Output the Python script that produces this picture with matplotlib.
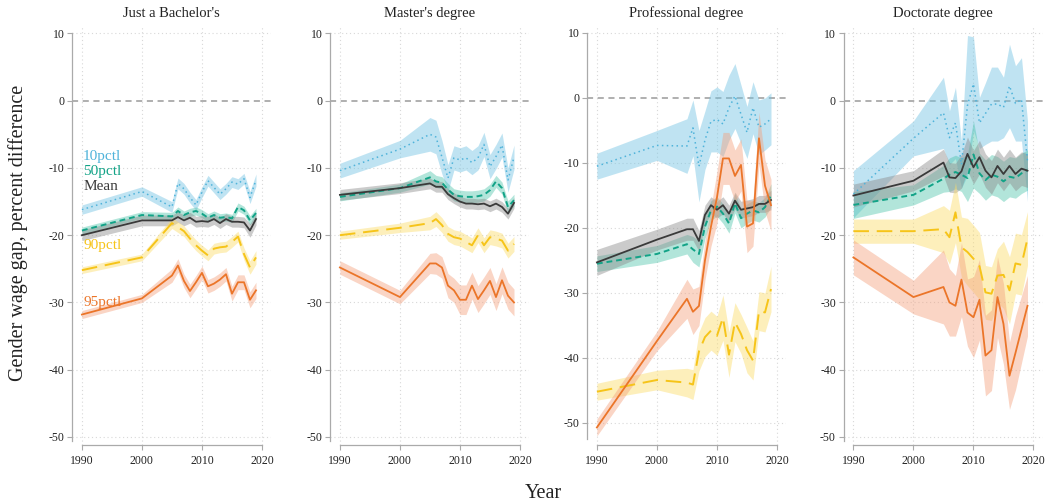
import matplotlib
matplotlib.use("Agg")
import matplotlib.pyplot as plt
import numpy as np

plt.rcParams["font.family"] = ["Liberation Serif", "DejaVu Serif"]
plt.rcParams["axes.unicode_minus"] = False

years = [1990, 2000, 2005, 2006, 2007, 2008, 2009, 2010, 2011, 2012,
         2013, 2014, 2015, 2016, 2017, 2018, 2019]

panel_titles = ["Just a Bachelor's", "Master's degree", "Professional degree", "Doctorate degree"]
series_names = ["10pctl", "50pctl", "Mean", "90pctl", "95pctl"]

# --- Just a Bachelor's: estimate and half-width of confidence band ---
ba_p10 = [-16.2, -13.5, -15.8, -12.3, -13.1, -14.4, -15.5, -13.6, -11.9, -12.9, -13.9, -13.1, -12.1, -12.4, -11.6, -14.4, -11.8]
ba_p10_ci = [0.7, 0.7, 0.8, 0.8, 0.8, 0.8, 0.8, 0.8, 0.8, 0.8, 0.8, 0.8, 0.8, 0.8, 0.8, 0.9, 0.9]
ba_p50 = [-19.3, -17.0, -17.2, -16.4, -17.0, -16.6, -16.4, -16.8, -17.4, -17.0, -17.4, -17.3, -17.5, -15.8, -16.3, -17.8, -16.7]
ba_p50_ci = [0.5, 0.5, 0.6, 0.6, 0.6, 0.6, 0.6, 0.6, 0.6, 0.6, 0.6, 0.6, 0.6, 0.6, 0.6, 0.7, 0.7]
ba_mean = [-20.0, -17.8, -17.8, -17.3, -17.8, -17.4, -18.0, -17.9, -18.0, -17.6, -18.2, -17.6, -18.0, -18.0, -18.1, -19.3, -17.6]
ba_mean_ci = [0.8, 0.8, 0.8, 0.8, 0.8, 0.8, 0.8, 0.8, 0.8, 0.8, 0.8, 0.8, 0.8, 0.8, 0.8, 1.0, 0.9]
ba_p90 = [-25.2, -23.3, -18.2, -18.8, -19.4, -20.5, -21.5, -22.3, -23.0, -22.0, -21.8, -21.7, -21.0, -20.2, -22.8, -24.8, -23.3]
ba_p90_ci = [0.5, 0.5, 0.8, 0.8, 0.8, 0.8, 0.8, 0.8, 0.8, 0.8, 0.8, 0.8, 0.8, 0.8, 0.9, 1.0, 1.0]
ba_p95 = [-31.8, -29.4, -26.0, -24.5, -26.8, -28.3, -27.0, -25.6, -27.6, -27.2, -26.6, -25.8, -28.7, -27.0, -27.0, -29.6, -28.2]
ba_p95_ci = [0.6, 0.6, 1.0, 1.0, 1.0, 1.0, 1.0, 1.0, 1.0, 1.0, 1.0, 1.0, 1.1, 1.1, 1.1, 1.2, 1.2]

# --- Master's degree ---
ma_p10 = [-10.4, -7.2, -5.0, -5.4, -8.4, -11.5, -8.5, -8.8, -8.5, -9.2, -8.5, -6.5, -9.8, -8.3, -6.6, -11.8, -8.4]
ma_p10_ci = [1.1, 1.3, 2.5, 2.5, 2.5, 2.0, 1.8, 1.8, 1.8, 1.8, 1.8, 1.8, 1.8, 1.8, 1.8, 1.8, 1.8]
ma_p50 = [-14.3, -13.0, -11.4, -12.0, -12.2, -13.2, -14.0, -14.2, -14.3, -14.3, -14.2, -14.0, -13.3, -12.0, -13.0, -15.8, -14.8]
ma_p50_ci = [0.6, 0.6, 1.0, 0.9, 0.9, 0.9, 0.9, 0.9, 0.9, 0.9, 0.9, 0.9, 0.9, 0.9, 0.9, 0.9, 0.9]
ma_mean = [-14.0, -13.0, -12.3, -12.8, -12.8, -13.9, -14.5, -15.0, -15.3, -15.3, -15.4, -15.3, -15.7, -15.3, -15.8, -16.8, -15.2]
ma_mean_ci = [0.8, 0.8, 0.8, 0.8, 0.8, 0.8, 0.8, 0.8, 0.8, 0.8, 0.8, 0.8, 0.8, 0.8, 0.8, 0.8, 0.8]
ma_p90 = [-20.0, -18.9, -18.2, -17.6, -18.5, -19.8, -20.3, -20.5, -21.0, -21.5, -20.0, -21.5, -20.3, -20.5, -20.8, -22.3, -21.3]
ma_p90_ci = [0.6, 0.7, 1.0, 1.1, 1.1, 1.1, 1.1, 1.1, 1.1, 1.1, 1.1, 1.1, 1.1, 1.1, 1.1, 1.1, 1.1]
ma_p95 = [-24.8, -29.2, -24.2, -24.2, -24.8, -27.5, -28.2, -29.6, -29.6, -27.5, -29.5, -28.2, -26.8, -29.2, -26.7, -29.0, -30.0]
ma_p95_ci = [1.0, 1.0, 1.5, 1.6, 1.6, 1.8, 1.8, 2.2, 2.2, 2.0, 2.0, 2.0, 2.0, 2.0, 2.0, 2.0, 2.0]

# --- Professional degree ---
pr_p10 = [-10.5, -7.3, -7.4, -4.6, -10.5, -6.5, -3.6, -3.3, -4.0, -1.5, 0.3, -2.5, -5.3, -1.5, -4.5, -4.0, -3.2]
pr_p10_ci = [2.0, 2.3, 4.2, 4.3, 5.5, 4.5, 4.7, 5.0, 5.0, 5.0, 5.0, 4.5, 4.0, 4.0, 4.2, 4.0, 4.0]
pr_p50 = [-25.5, -24.0, -22.5, -23.3, -24.0, -19.8, -17.3, -16.7, -17.8, -19.3, -16.2, -18.5, -17.8, -17.3, -17.6, -16.8, -15.0]
pr_p50_ci = [1.2, 1.3, 1.5, 2.0, 2.0, 1.8, 1.5, 1.5, 1.5, 1.5, 1.5, 1.5, 1.5, 1.5, 1.5, 1.5, 1.8]
pr_mean = [-25.3, -21.8, -20.2, -20.2, -22.0, -18.0, -16.5, -17.2, -16.5, -17.8, -15.8, -17.2, -17.0, -16.8, -16.3, -16.3, -15.7]
pr_mean_ci = [2.0, 1.6, 1.7, 1.7, 1.6, 1.5, 1.3, 1.3, 1.3, 1.3, 1.3, 1.3, 1.3, 1.3, 1.3, 1.3, 1.5]
pr_p90 = [-45.2, -43.4, -43.8, -44.1, -39.0, -36.8, -35.8, -36.6, -33.8, -39.5, -34.5, -36.3, -38.8, -40.4, -32.8, -33.0, -29.4]
pr_p90_ci = [1.3, 1.5, 2.2, 2.3, 3.0, 3.0, 3.0, 3.0, 3.5, 3.5, 3.0, 3.0, 3.5, 3.0, 3.0, 3.0, 3.5]
pr_p95 = [-50.7, -37.4, -30.9, -32.9, -32.0, -25.0, -19.8, -15.3, -9.3, -9.3, -12.0, -10.3, -19.8, -19.3, -6.2, -13.5, -16.5]
pr_p95_ci = [1.3, 1.5, 3.0, 3.5, 3.0, 3.0, 3.0, 4.0, 4.0, 4.0, 4.0, 4.0, 4.0, 3.5, 4.0, 4.0, 4.0]

# --- Doctorate degree ---
dr_p10 = [-13.9, -5.6, -1.8, -5.5, -3.3, -9.5, -0.7, 2.5, -3.3, -1.9, -0.5, -0.5, -1.0, 2.2, -0.4, 0.2, -9.0]
dr_p10_ci = [3.5, 2.6, 5.3, 4.0, 5.3, 3.5, 10.4, 7.0, 3.8, 4.6, 5.5, 5.5, 4.5, 6.2, 5.6, 6.2, 6.0]
dr_p50 = [-15.5, -14.0, -11.6, -11.0, -10.6, -11.0, -11.5, -8.0, -10.8, -11.8, -11.0, -11.3, -12.0, -11.3, -11.5, -10.8, -10.3]
dr_p50_ci = [2.0, 1.5, 2.0, 2.5, 2.5, 2.5, 3.5, 5.0, 3.0, 3.0, 3.0, 3.0, 3.0, 3.0, 3.0, 3.0, 3.0]
dr_mean = [-14.1, -11.9, -9.2, -11.4, -11.5, -10.5, -7.9, -9.9, -8.4, -10.4, -11.4, -9.7, -10.9, -9.7, -10.9, -10.1, -10.4]
dr_mean_ci = [1.7, 1.5, 2.0, 2.2, 2.2, 2.5, 2.5, 2.5, 2.5, 2.5, 2.5, 2.5, 2.5, 2.5, 2.5, 2.5, 2.5]
dr_p90 = [-19.4, -19.4, -19.1, -20.3, -16.6, -21.8, -22.5, -23.5, -24.6, -28.5, -28.7, -26.0, -25.9, -28.2, -24.2, -24.4, -20.5]
dr_p90_ci = [1.8, 1.8, 3.5, 4.0, 4.5, 4.5, 5.0, 5.0, 5.0, 4.0, 4.0, 4.0, 5.0, 5.0, 4.5, 4.5, 4.0]
dr_p95 = [-23.3, -29.2, -27.7, -30.0, -30.5, -26.6, -31.5, -32.2, -29.6, -37.9, -37.1, -29.2, -33.2, -40.9, -37.5, -34.0, -30.5]
dr_p95_ci = [2.6, 2.5, 5.5, 5.0, 4.5, 5.5, 5.0, 6.0, 6.0, 6.0, 6.0, 6.0, 6.0, 5.0, 5.5, 5.0, 4.5]

panels = [
    [(ba_p10, ba_p10_ci), (ba_p50, ba_p50_ci), (ba_mean, ba_mean_ci), (ba_p90, ba_p90_ci), (ba_p95, ba_p95_ci)],
    [(ma_p10, ma_p10_ci), (ma_p50, ma_p50_ci), (ma_mean, ma_mean_ci), (ma_p90, ma_p90_ci), (ma_p95, ma_p95_ci)],
    [(pr_p10, pr_p10_ci), (pr_p50, pr_p50_ci), (pr_mean, pr_mean_ci), (pr_p90, pr_p90_ci), (pr_p95, pr_p95_ci)],
    [(dr_p10, dr_p10_ci), (dr_p50, dr_p50_ci), (dr_mean, dr_mean_ci), (dr_p90, dr_p90_ci), (dr_p95, dr_p95_ci)],
]

line_colors = ["#4FB3DA", "#12A387", "#3A3A3A", "#F6C419", "#EB7529"]
band_colors = ["#72C3E3", "#3FC0A4", "#8C8C8C", "#FBDC6A", "#F4A27F"]
band_alpha = [0.45, 0.4, 0.45, 0.45, 0.45]
line_styles = [(0, (1, 2.2)), (0, (3, 2)), "-", (0, (8, 4)), "-"]
line_widths = [1.1, 1.4, 1.3, 1.4, 1.3]

label_y = [-8.3, -10.5, -12.7, -21.6, -30.0]

fig = plt.figure(figsize=(10.47, 5.04), dpi=100)
W, H = 1047.0, 504.0
ax_lefts = [72, 330, 587, 843.5]
ax_w = 199
ax_top, ax_bot = 25, 445

ylims = [(-51.2, 11.26), (-51.2, 11.26), (-53.4, 11.23), (-51.2, 11.26)]
spine_low = [-50.6, -50.6, -52.5, -50.6]
grid_col = "#D8D8D8"
xs = np.array(years)

for i, (title, series) in enumerate(zip(panel_titles, panels)):
    ax = fig.add_axes([ax_lefts[i] / W, (H - ax_bot) / H, ax_w / W, (ax_bot - ax_top) / H])
    ax.set_xlim(1988.35, 2021.5)
    ax.set_ylim(*ylims[i])

    for gx in [1990, 2000, 2010, 2020]:
        ax.axvline(gx, color=grid_col, lw=0.8, ls=(0, (1, 2.5)), zorder=0)
    for gy in [10, -10, -20, -30, -40, -50]:
        ax.axhline(gy, color=grid_col, lw=0.8, ls=(0, (1, 2.5)), zorder=0)
    ax.axhline(0, color="#9A9A9A", lw=1.1, ls=(0, (4, 3)), zorder=1)

    for k, (vals, ci) in enumerate(series):
        v = np.array(vals)
        c = np.array(ci)
        ax.fill_between(xs, v - c, v + c, color=band_colors[k], alpha=band_alpha[k],
                        lw=0, zorder=2 + k)
    for k, (vals, ci) in enumerate(series):
        ax.plot(xs, vals, color=line_colors[k], ls=line_styles[k], lw=line_widths[k],
                zorder=10 + k, dash_capstyle="butt")

    ax.set_title(title, fontsize=10.5, pad=6, color="#222222")

    for side in ["top", "right"]:
        ax.spines[side].set_visible(False)
    ax.spines["left"].set_bounds(spine_low[i], 10)
    ax.spines["bottom"].set_bounds(1990, 2020)
    for side in ["left", "bottom"]:
        ax.spines[side].set_color("#AAAAAA")
        ax.spines[side].set_linewidth(0.9)

    ax.set_xticks([1990, 2000, 2010, 2020])
    ax.set_yticks([10, 0, -10, -20, -30, -40, -50])
    ax.tick_params(axis="both", colors="#AAAAAA", labelcolor="#222222",
                   labelsize=8.5, length=3.5, width=0.8)
    ax.tick_params(axis="y", pad=2)
    ax.tick_params(axis="x", pad=4)

    if i == 0:
        for k, name in enumerate(series_names):
            ax.text(1990.2, label_y[k], name, color=line_colors[k], fontsize=11,
                    ha="left", va="center", zorder=20)

fig.text(18 / W, 1 - 233 / H, "Gender wage gap, percent difference", rotation=90,
         ha="center", va="center", fontsize=14.5, color="#222222")
fig.text(543 / W, 1 - 494 / H, "Year", ha="center", va="center", fontsize=14.5,
         color="#222222")

fig.savefig("out.png", dpi=100)
